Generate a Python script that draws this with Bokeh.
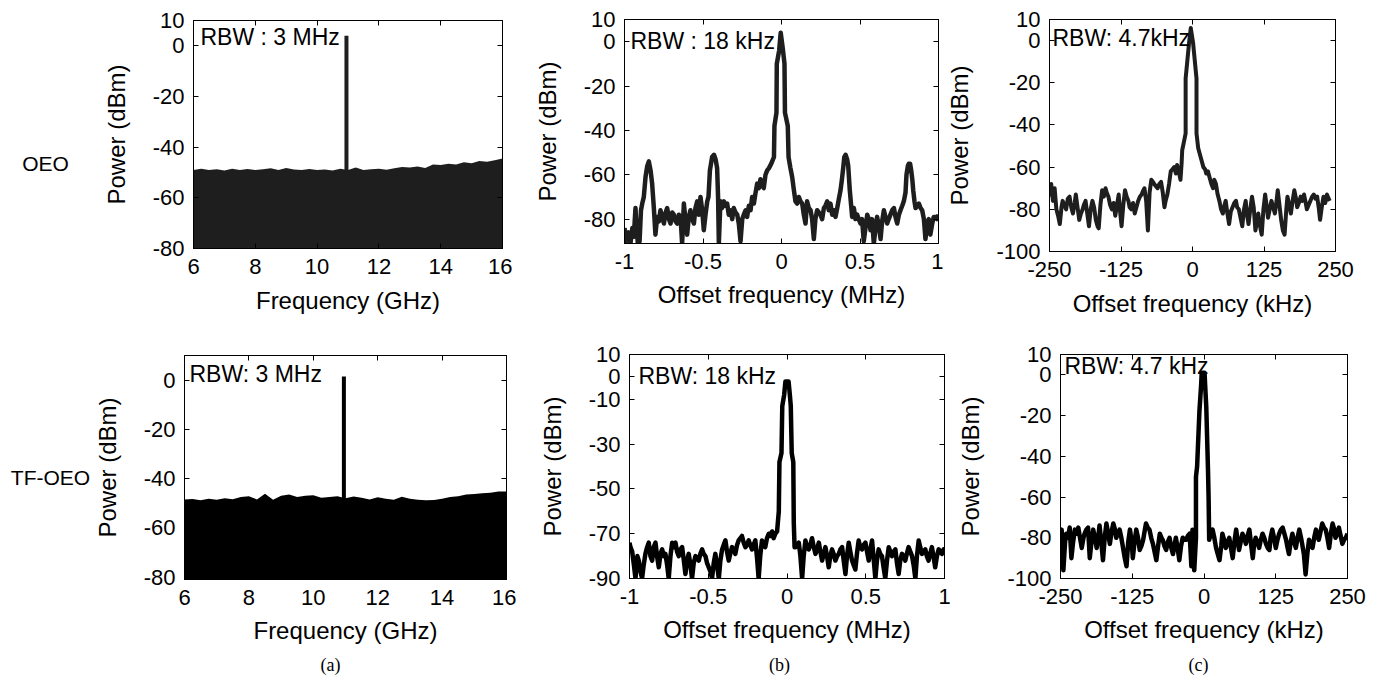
from bokeh.plotting import figure
from bokeh.models import Range1d, FixedTicker, LinearAxis, Label, CustomJSTickFormatter
from bokeh.layouts import column, row
from bokeh.embed import file_html
from bokeh.resources import INLINE

# ------------------------------------------------------------------ data
# (a) wide-span spectra, noise-floor envelope sampled every 0.25 GHz
a_freq_ghz = [6.0, 6.25, 6.5, 6.75, 7.0, 7.25, 7.5, 7.75, 8.0, 8.25,
              8.5, 8.75, 9.0, 9.25, 9.5, 9.75, 10.0, 10.25, 10.5, 10.75,
              11.0, 11.25, 11.5, 11.75, 12.0, 12.25, 12.5, 12.75, 13.0, 13.25,
              13.5, 13.75, 14.0, 14.25, 14.5, 14.75, 15.0, 15.25, 15.5, 15.75,
              16.0]
oeo_floor_dbm = [-49.0, -48.5, -49.0, -48.7, -49.2, -48.5, -49.0, -48.6, -49.0, -48.7,
                 -48.3, -49.0, -48.2, -48.8, -49.0, -48.6, -49.0, -48.8, -49.2, -48.5,
                 -49.0, -48.0, -49.0, -48.7, -48.5, -48.9, -48.3, -47.8, -48.0, -47.6,
                 -48.2, -46.8, -47.0, -46.5, -46.8, -46.0, -46.3, -45.5, -45.8, -45.2,
                 -44.5]
tf_floor_dbm = [-48.5, -48.3, -48.8, -48.2, -48.6, -48.0, -48.4, -47.5, -47.2, -48.5,
                -46.2, -48.6, -47.0, -46.5, -47.5, -47.0, -46.8, -47.8, -47.5, -47.2,
                -48.0, -47.3, -47.8, -48.5, -47.6, -48.2, -48.6, -47.4, -48.2, -48.6,
                -48.8, -48.7, -48.2, -47.5, -47.2, -46.5, -46.3, -46.0, -45.8, -45.3,
                -45.2]
oeo_peak_ghz = 10.95
oeo_peak_dbm = 4.0
tf_peak_ghz = 10.95
tf_peak_dbm = 1.5

# (b) OEO, 2 MHz span
b_oeo_mhz = [-1.000, -0.990, -0.975, -0.962, -0.950, -0.941, -0.930, -0.925, -0.915, -0.904,
             -0.895, -0.887, -0.877, -0.866, -0.855, -0.845, -0.834, -0.824, -0.813, -0.803,
             -0.792, -0.781, -0.771, -0.760, -0.749, -0.738, -0.728, -0.717, -0.707, -0.696,
             -0.686, -0.675, -0.665, -0.654, -0.643, -0.633, -0.622, -0.612, -0.601, -0.590,
             -0.580, -0.569, -0.558, -0.548, -0.537, -0.527, -0.516, -0.505, -0.495, -0.484,
             -0.473, -0.465, -0.456, -0.442, -0.430, -0.420, -0.410, -0.404, -0.399, -0.389,
             -0.378, -0.367, -0.357, -0.346, -0.336, -0.325, -0.314, -0.304, -0.293, -0.282,
             -0.272, -0.261, -0.250, -0.240, -0.229, -0.219, -0.208, -0.197, -0.187, -0.176,
             -0.165, -0.155, -0.144, -0.134, -0.123, -0.113, -0.102, -0.091, -0.080, -0.065,
             -0.048, -0.045, -0.032, -0.030, -0.015, -0.005, 0.008, 0.019, 0.022, 0.040,
             0.045, 0.057, 0.068, 0.079, 0.089, 0.100, 0.110, 0.121, 0.132, 0.142,
             0.153, 0.163, 0.174, 0.185, 0.195, 0.206, 0.216, 0.227, 0.238, 0.248,
             0.259, 0.270, 0.280, 0.291, 0.301, 0.312, 0.323, 0.333, 0.344, 0.355,
             0.365, 0.376, 0.385, 0.393, 0.400, 0.408, 0.418, 0.425, 0.435, 0.450,
             0.461, 0.471, 0.482, 0.492, 0.503, 0.513, 0.524, 0.535, 0.546, 0.556,
             0.567, 0.577, 0.588, 0.599, 0.609, 0.620, 0.631, 0.641, 0.652, 0.662,
             0.673, 0.683, 0.694, 0.705, 0.716, 0.726, 0.737, 0.748, 0.758, 0.769,
             0.779, 0.790, 0.796, 0.805, 0.811, 0.819, 0.826, 0.833, 0.839, 0.847,
             0.854, 0.865, 0.875, 0.886, 0.896, 0.907, 0.917, 0.928, 0.938, 0.948,
             0.960, 0.970, 0.981, 0.990, 1.000]
b_oeo_dbm = [-84, -90, -86, -91, -84, -88, -75, -82, -91, -90,
             -76, -73, -70, -61, -56, -54, -58, -64, -75, -87,
             -79, -81, -76, -79, -82, -77, -75, -80, -82, -77,
             -78, -81, -82, -78, -79, -91, -73, -80, -87, -79,
             -76, -80, -82, -75, -72, -78, -70, -76, -85, -78,
             -72, -70, -58, -52, -51, -53, -57, -70, -91, -72,
             -75, -72, -74, -73, -78, -76, -80, -75, -77, -78,
             -82, -90, -80, -78, -76, -79, -74, -76, -70, -73,
             -68, -64, -66, -62, -65, -66, -60, -58, -57, -55,
             -52, -38, -32, -10, -4, 4, -3, -10, -32, -38,
             -52, -57, -61, -67, -72, -73, -70, -72, -73, -78,
             -82, -72, -75, -76, -80, -89, -80, -76, -77, -78,
             -80, -75, -74, -72, -76, -73, -78, -76, -79, -75,
             -71, -67, -62, -57, -52, -51, -53, -56, -67, -79,
             -75, -80, -78, -80, -82, -80, -90, -84, -78, -80,
             -85, -80, -91, -84, -79, -83, -89, -81, -76, -79,
             -82, -80, -78, -76, -75, -79, -82, -78, -76, -74,
             -72, -68, -60, -56, -55, -55, -58, -62, -67, -72,
             -75, -74, -73, -75, -76, -80, -89, -82, -80, -87,
             -82, -79, -79, -80, -78]

# (c) OEO, 500 kHz span
c_oeo_khz = [-250, -247, -244, -241, -238, -235, -232, -229, -227, -224,
             -221, -218, -215, -212, -209, -206, -204, -201, -198, -195,
             -192, -190, -187, -184, -181, -178, -175, -172, -169, -166,
             -164, -161, -158, -155, -152, -150, -147, -144, -141, -138,
             -135, -132, -129, -127, -124, -121, -118, -115, -112, -110,
             -107, -104, -101, -98, -95, -92, -89, -86, -84, -81,
             -78, -75, -72, -69, -67, -64, -61, -58, -55, -52,
             -49, -47, -44, -41, -38, -35, -32, -29, -27, -24,
             -21, -19, -18, -15, -12, -12, -6, -3, 1, 7,
             7, 10, 13, 16, 19, 22, 24, 27, 30, 33,
             36, 38, 41, 44, 47, 50, 53, 56, 58, 61,
             64, 67, 70, 73, 76, 78, 81, 84, 87, 90,
             93, 95, 98, 101, 104, 107, 110, 113, 115, 118,
             121, 124, 127, 130, 132, 135, 138, 141, 144, 147,
             149, 152, 155, 158, 161, 164, 166, 169, 172, 175,
             178, 181, 183, 186, 189, 192, 195, 198, 200, 203,
             206, 209, 212, 215, 218, 221, 223, 226, 229, 232,
             235, 238, 240]
c_oeo_dbm = [-74, -68, -76, -70, -80, -83, -87, -79, -76, -78,
             -80, -75, -74, -79, -82, -77, -73, -79, -85, -82,
             -80, -78, -76, -82, -88, -80, -76, -79, -85, -88,
             -89, -78, -71, -74, -70, -72, -74, -78, -80, -77,
             -83, -78, -73, -80, -88, -78, -71, -74, -76, -79,
             -80, -77, -82, -79, -76, -74, -73, -71, -70, -76,
             -90, -72, -66, -67, -68, -69, -70, -68, -67, -72,
             -79, -76, -73, -68, -62, -61, -60, -63, -59, -62,
             -66, -58, -52, -48, -44, -18, -1, 6, -1, -18,
             -44, -51, -54, -57, -60, -61, -63, -62, -65, -68,
             -70, -66, -68, -73, -76, -80, -82, -78, -76, -82,
             -87, -81, -79, -77, -76, -79, -80, -84, -88, -80,
             -76, -82, -87, -80, -74, -79, -90, -85, -82, -88,
             -92, -80, -73, -79, -84, -80, -76, -79, -82, -76,
             -71, -78, -85, -90, -92, -80, -74, -78, -82, -76,
             -71, -75, -79, -77, -74, -76, -73, -77, -80, -78,
             -76, -74, -73, -75, -74, -80, -85, -79, -74, -77,
             -73, -75, -76]

# (b) TF-OEO, 2 MHz span
b_tf_mhz = [-1.000, -0.994, -0.983, -0.972, -0.962, -0.950, -0.941, -0.930, -0.920, -0.910,
            -0.899, -0.888, -0.878, -0.867, -0.856, -0.846, -0.835, -0.825, -0.814, -0.803,
            -0.793, -0.782, -0.772, -0.761, -0.751, -0.740, -0.729, -0.719, -0.708, -0.698,
            -0.687, -0.677, -0.666, -0.655, -0.645, -0.634, -0.624, -0.613, -0.603, -0.592,
            -0.581, -0.571, -0.560, -0.550, -0.539, -0.529, -0.518, -0.508, -0.497, -0.486,
            -0.476, -0.465, -0.455, -0.444, -0.433, -0.423, -0.412, -0.402, -0.391, -0.381,
            -0.370, -0.360, -0.349, -0.339, -0.328, -0.317, -0.307, -0.296, -0.286, -0.275,
            -0.264, -0.254, -0.243, -0.233, -0.222, -0.212, -0.201, -0.190, -0.180, -0.170,
            -0.159, -0.148, -0.138, -0.127, -0.116, -0.106, -0.095, -0.085, -0.074, -0.063,
            -0.052, -0.048, -0.035, -0.030, -0.018, -0.010, 0.010, 0.018, 0.024, 0.030,
            0.040, 0.043, 0.048, 0.054, 0.064, 0.075, 0.085, 0.096, 0.106, 0.117,
            0.127, 0.138, 0.148, 0.159, 0.170, 0.181, 0.191, 0.202, 0.212, 0.223,
            0.233, 0.244, 0.254, 0.265, 0.275, 0.286, 0.296, 0.307, 0.318, 0.329,
            0.339, 0.350, 0.360, 0.371, 0.381, 0.392, 0.402, 0.413, 0.423, 0.434,
            0.444, 0.455, 0.465, 0.476, 0.487, 0.498, 0.508, 0.519, 0.529, 0.540,
            0.550, 0.561, 0.571, 0.582, 0.592, 0.603, 0.613, 0.624, 0.635, 0.646,
            0.656, 0.667, 0.677, 0.688, 0.698, 0.709, 0.719, 0.730, 0.740, 0.751,
            0.761, 0.772, 0.783, 0.794, 0.804, 0.815, 0.825, 0.836, 0.846, 0.857,
            0.867, 0.878, 0.888, 0.899, 0.909, 0.920, 0.930, 0.941, 0.952, 0.963,
            0.973, 0.984, 0.994, 1.000]
b_tf_dbm = [-74, -76, -78, -84, -90, -80, -82, -87, -90, -84,
            -79, -76, -74, -80, -82, -76, -74, -80, -85, -79,
            -77, -80, -79, -84, -90, -80, -74, -76, -74, -78,
            -80, -77, -76, -82, -88, -82, -79, -84, -90, -83,
            -80, -81, -82, -79, -77, -79, -80, -83, -85, -87,
            -90, -83, -79, -84, -90, -82, -77, -75, -73, -78,
            -82, -79, -76, -77, -79, -75, -73, -72, -71, -74,
            -76, -75, -73, -75, -77, -75, -73, -81, -90, -80,
            -73, -75, -76, -72, -70, -71, -69, -72, -70, -69,
            -60, -38, -34, -13, -8, -2, -2, -8, -13, -34,
            -38, -65, -76, -76, -75, -74, -80, -90, -80, -73,
            -76, -77, -75, -72, -76, -79, -77, -74, -78, -82,
            -79, -76, -80, -85, -80, -77, -79, -82, -80, -79,
            -77, -76, -82, -88, -80, -74, -78, -82, -84, -86,
            -79, -73, -76, -77, -75, -74, -78, -82, -77, -73,
            -81, -90, -82, -77, -79, -80, -85, -90, -82, -76,
            -78, -80, -78, -77, -83, -88, -82, -79, -80, -82,
            -79, -76, -78, -80, -84, -90, -80, -73, -76, -79,
            -78, -77, -80, -82, -79, -76, -80, -85, -80, -77,
            -78, -79, -77, -78]

# (c) TF-OEO, 500 kHz span
c_tf_khz = [-250, -248, -245, -242, -240, -237, -234, -231, -228, -225,
            -222, -219, -216, -213, -210, -208, -205, -202, -199, -196,
            -193, -190, -187, -184, -182, -179, -176, -173, -170, -167,
            -164, -161, -158, -155, -153, -150, -147, -144, -141, -138,
            -135, -132, -129, -126, -124, -121, -118, -115, -112, -109,
            -106, -103, -101, -98, -95, -92, -89, -86, -83, -80,
            -77, -74, -72, -69, -66, -63, -60, -57, -54, -51,
            -49, -46, -43, -40, -37, -34, -31, -28, -25, -22,
            -20, -17, -14, -14, -12, -8, -5, -4, 1, 2,
            4, 7, 8, 9, 12, 15, 18, 21, 24, 27,
            30, 32, 35, 38, 41, 44, 47, 50, 53, 56,
            58, 61, 64, 67, 70, 73, 76, 79, 82, 85,
            87, 90, 93, 96, 99, 102, 105, 108, 111, 114,
            116, 119, 122, 125, 128, 131, 134, 137, 140, 143,
            145, 148, 151, 154, 157, 160, 163, 166, 169, 171,
            174, 177, 180, 183, 186, 189, 192, 195, 198, 200,
            203, 206, 209, 212, 215, 218, 221, 224, 227, 229,
            232, 235, 238, 241, 244, 247, 250]
c_tf_dbm = [-80, -76, -96, -82, -78, -80, -75, -90, -82, -76,
            -78, -75, -80, -85, -80, -78, -76, -75, -90, -82,
            -76, -80, -85, -79, -74, -82, -91, -80, -73, -78,
            -83, -77, -73, -76, -80, -78, -76, -80, -85, -90,
            -94, -82, -76, -82, -90, -82, -76, -80, -86, -84,
            -81, -76, -73, -75, -76, -80, -83, -87, -91, -84,
            -78, -80, -81, -84, -86, -82, -80, -85, -88, -83,
            -80, -85, -91, -84, -80, -81, -81, -79, -78, -94,
            -76, -96, -80, -50, -45, -18, -5, 1, 1, -5,
            -16, -47, -60, -81, -78, -76, -80, -85, -88, -91,
            -84, -78, -81, -85, -82, -80, -85, -90, -82, -76,
            -80, -86, -82, -78, -80, -83, -79, -76, -83, -90,
            -84, -80, -82, -85, -81, -78, -80, -83, -85, -86,
            -80, -76, -80, -85, -81, -78, -76, -75, -78, -81,
            -84, -88, -82, -78, -82, -85, -80, -76, -80, -83,
            -88, -98, -88, -81, -83, -85, -80, -76, -79, -81,
            -77, -73, -75, -76, -80, -85, -78, -73, -76, -80,
            -78, -75, -79, -83, -81, -80, -78]

assert len(b_oeo_mhz) == len(b_oeo_dbm)
assert len(c_oeo_khz) == len(c_oeo_dbm)
assert len(b_tf_mhz) == len(b_tf_dbm)
assert len(c_tf_khz) == len(c_tf_dbm)
assert len(a_freq_ghz) == len(oeo_floor_dbm) == len(tf_floor_dbm)

ticks_a_x = [6, 8, 10, 12, 14, 16]
ticks_b_x = [-1, -0.5, 0, 0.5, 1]
ticks_c_x = [-250, -125, 0, 125, 250]

row_labels = ["OEO", "TF-OEO"]
captions = ["(a)", "(b)", "(c)"]

# ------------------------------------------------------------------ styling
SANS = "Liberation Sans"
SERIF = "Liberation Serif"
TOP_COLOR = "#1e1e1e"
BOT_COLOR = "#000000"


def make_panel(fig_w, fig_h, bl, bt, fw, fh, xr, yr, xticks, yticks, xlabel, xlab_standoff=6):
    p = figure(width=fig_w, height=fig_h,
               x_range=Range1d(*xr), y_range=Range1d(*yr),
               min_border_left=bl, min_border_top=bt,
               min_border_right=fig_w - bl - fw, min_border_bottom=fig_h - bt - fh,
               output_backend="svg", toolbar_location=None, tools="")
    p.xgrid.visible = False
    p.ygrid.visible = False
    p.outline_line_color = "black"
    p.background_fill_color = "white"
    p.border_fill_color = "white"
    fmt = CustomJSTickFormatter(code="return String(tick);")
    for ax, t in ((p.xaxis[0], xticks), (p.yaxis[0], yticks)):
        ax.ticker = FixedTicker(ticks=t)
        ax.formatter = fmt
        ax.major_tick_in = 5
        ax.major_tick_out = 0
        ax.minor_tick_in = 0
        ax.minor_tick_out = 0
        ax.axis_line_color = "black"
        ax.major_tick_line_color = "black"
        ax.major_label_text_font = SANS
        ax.major_label_text_font_size = "22px"
        ax.major_label_text_color = "black"
        ax.axis_label_text_font = SANS
        ax.axis_label_text_font_size = "24px"
        ax.axis_label_text_font_style = "normal"
        ax.axis_label_text_color = "black"
    p.xaxis[0].axis_label = xlabel
    p.xaxis[0].major_label_standoff = 10
    p.xaxis[0].axis_label_standoff = xlab_standoff
    p.yaxis[0].axis_label = "Power (dBm)"
    p.yaxis[0].major_label_standoff = 9
    p.yaxis[0].axis_label_standoff = 20
    # mirrored inward ticks on top and right (MATLAB box)
    for loc, t in (("above", xticks), ("right", yticks)):
        ax = LinearAxis(ticker=FixedTicker(ticks=t), major_tick_in=5, major_tick_out=0,
                        minor_tick_in=0, minor_tick_out=0, major_label_text_font_size="1px",
                        major_label_text_color=None, major_label_standoff=0,
                        axis_line_color="black")
        p.add_layout(ax, loc)
    return p


def blank(w, h):
    p = figure(width=w, height=h, x_range=Range1d(0, w), y_range=Range1d(0, h),
               x_axis_type=None, y_axis_type=None,
               min_border_left=0, min_border_right=0, min_border_top=0, min_border_bottom=0,
               output_backend="svg", toolbar_location=None, tools="")
    p.outline_line_color = None
    p.background_fill_color = "white"
    p.border_fill_color = "white"
    return p


def add_text(p, sx, sy, text, size="23px", font=SANS, align="center"):
    p.add_layout(Label(x=sx, y=sy, x_units="screen", y_units="screen", text=text,
                       text_font=font, text_font_size=size, text_baseline="middle",
                       text_align=align, text_color="black"))


# ------------------------------------------------------------------ top row (OEO)
lab1 = blank(95, 330)
add_text(lab1, 45, 167, row_labels[0], size="21px")

fa1 = make_panel(417, 330, 98, 20, 309, 228, (6, 16), (-80, 10), ticks_a_x,
                 [10, 0, -20, -40, -60, -80], "Frequency (GHz)", xlab_standoff=10)
fa1.varea(x=a_freq_ghz, y1=-80, y2=oeo_floor_dbm, fill_color=TOP_COLOR)
fa1.segment(x0=[oeo_peak_ghz], y0=[-60], x1=[oeo_peak_ghz], y1=[oeo_peak_dbm],
            line_width=4, line_color=TOP_COLOR)
add_text(fa1, 7, 212, "RBW : 3 MHz", align="left")

fb1 = make_panel(431, 330, 112, 19, 314, 224, (-1, 1), (-91, 10), ticks_b_x,
                 [10, 0, -20, -40, -60, -80], "Offset frequency (MHz)", xlab_standoff=9)
fb1.line(b_oeo_mhz, b_oeo_dbm, line_width=4.5, line_color=TOP_COLOR, line_join="round")
add_text(fb1, 6, 203, "RBW : 18 kHz", align="left")

fc1 = make_panel(417, 330, 100, 19, 292, 232, (-250, 250), (-100, 10), ticks_c_x,
                 [10, 0, -20, -40, -60, -80, -100], "Offset frequency (kHz)", xlab_standoff=10)
fc1.line(c_oeo_khz, c_oeo_dbm, line_width=4, line_color=TOP_COLOR, line_join="round")
add_text(fc1, 3, 214, "RBW: 4.7kHz", align="left")

# ------------------------------------------------------------------ bottom row (TF-OEO)
lab2 = blank(90, 323)
add_text(lab2, 50, 176, row_labels[1], size="21px")

fa2 = make_panel(426, 323, 93, 25, 323, 224, (6, 16), (-81, 10), ticks_a_x,
                 [0, -20, -40, -60, -80], "Frequency (GHz)", xlab_standoff=9)
fa2.varea(x=a_freq_ghz, y1=-81, y2=tf_floor_dbm, fill_color=BOT_COLOR)
fa2.segment(x0=[tf_peak_ghz], y0=[-60], x1=[tf_peak_ghz], y1=[tf_peak_dbm],
            line_width=4, line_color=BOT_COLOR)
add_text(fa2, 5, 206, "RBW: 3 MHz", align="left")

fb2 = make_panel(438, 323, 113, 24, 315, 224, (-1, 1), (-90, 10), ticks_b_x,
                 [10, 0, -10, -30, -50, -70, -90], "Offset frequency (MHz)", xlab_standoff=9)
fb2.line(b_tf_mhz, b_tf_dbm, line_width=4.5, line_color=BOT_COLOR, line_join="round")
add_text(fb2, 9, 203, "RBW: 18 kHz", align="left")

fc2 = make_panel(413, 323, 105, 24, 288, 224, (-250, 250), (-100, 10), ticks_c_x,
                 [10, 0, -20, -40, -60, -80, -100], "Offset frequency (kHz)", xlab_standoff=9)
fc2.line(c_tf_khz, c_tf_dbm, line_width=4.5, line_color=BOT_COLOR, line_join="round")
add_text(fc2, 4, 213, "RBW: 4.7 kHz", align="left")

# ------------------------------------------------------------------ captions
cap = blank(1367, 22)
for cx, txt in zip([330, 779, 1198], captions):
    add_text(cap, cx, 11, txt, size="18px", font=SERIF)

# each figure is wrapped in its own column so that the rows do not align frames
top_row = row(*[column(f) for f in (lab1, fa1, fb1, fc1)])
bottom_row = row(*[column(f) for f in (lab2, fa2, fb2, fc2)])
layout = column(top_row, bottom_row, cap)
open("out.html", "w").write(file_html(layout, INLINE))
